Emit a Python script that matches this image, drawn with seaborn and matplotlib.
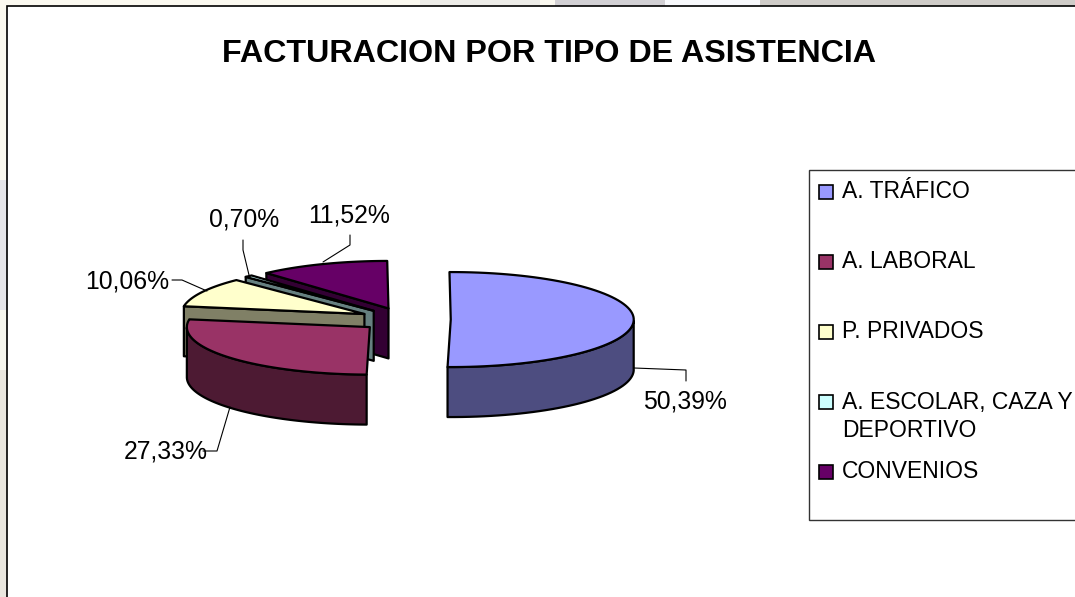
import numpy as np
import matplotlib
matplotlib.use("Agg")
import matplotlib.pyplot as plt
from matplotlib.patches import Polygon, Rectangle
import seaborn as sns

#%% Data
title = 'FACTURACION POR TIPO DE ASISTENCIA'
categories = ['A. TRÁFICO', 'A. LABORAL', 'P. PRIVADOS', 'A. ESCOLAR, CAZA Y\nDEPORTIVO', 'CONVENIOS']
values = [50.39, 27.33, 10.06, 0.70, 11.52]
top_colors = ['#9999FF', '#993366', '#FFFFCC', '#CCFFFF', '#660066']
side_colors = ['#4D4D80', '#4D1A33', '#808066', '#668080', '#330033']

#%% Layout, in image pixels
W, H = 1075, 597
cx, cy = 405, 319.5
rx, ry = 183, 47.5
depth = 50
explode = 0.25
first_angle = -0.4
line_w = 1.6

sns.set_style("white")
plt.rcParams['font.family'] = ['Liberation Sans', 'DejaVu Sans']

fig = plt.figure(figsize=(W / 100, H / 100), dpi=100, facecolor='#FBF9F0')
ax = fig.add_axes([0, 0, 1, 1])
ax.set_xlim(0, W)
ax.set_ylim(H, 0)
ax.axis('off')

# faint picture behind the chart, only the strips at the top and left show
strips = [
    (420, 0, 120, 6, '#EDECE8'),
    (555, 0, 110, 6, '#D2D0D4'),
    (665, 0, 95, 6, '#F8F9FC'),
    (760, 0, 315, 6, '#CFCCC8'),
    (0, 180, 7, 130, '#E6E6EA'),
    (0, 310, 7, 60, '#F6F6EE'),
    (0, 370, 7, 227, '#EAE7DF'),
]
for x, y, w, h, c in strips:
    ax.add_patch(Rectangle((x, y), w, h, fc=c, ec='none', zorder=-1))

# chart area
ax.add_patch(Rectangle((7, 6), W, H, fc='white', ec='black', lw=1.2, zorder=0))


def point(ox, oy, deg, dy=0):
    # angle is clockwise from the top of the pie
    t = np.radians(deg)
    return ox + rx * np.sin(t), oy - ry * np.cos(t) + dy


def draw_wedge(start, end, top, side):
    mid = (start + end) / 2
    ox, oy = point(cx, cy, mid)
    ox = cx + (ox - cx) * explode
    oy = cy + (oy - cy) * explode

    angles = np.linspace(start, end, 80)
    kw = dict(ec='black', lw=line_w, joinstyle='round')

    # radial side faces that look at the viewer, edge-on ones are skipped
    for edge, normal in ((start, start - 90), (end, end + 90)):
        if np.cos(np.radians(normal)) < -0.1:
            ex, ey = point(ox, oy, edge)
            ax.add_patch(Polygon([(ox, oy), (ex, ey), (ex, ey + depth), (ox, oy + depth)],
                                 fc=side, **kw))

    # rim, only the front half of the ellipse
    front = angles[(angles >= 90) & (angles <= 270)]
    if len(front) > 1:
        upper = [point(ox, oy, a) for a in front]
        lower = [point(ox, oy, a, depth) for a in front[::-1]]
        ax.add_patch(Polygon(upper + lower, fc=side, **kw))

    # top face
    ax.add_patch(Polygon([(ox, oy)] + [point(ox, oy, a) for a in angles], fc=top, **kw))


# back slices first, so the front ones cover them
stops = np.cumsum([0] + values) * 3.6 + first_angle
for i in [4, 3, 2, 1, 0]:
    draw_wedge(stops[i], stops[i + 1], top_colors[i], side_colors[i])

#%% Percent labels and leader lines
pct = [f'{v:.2f}%'.replace('.', ',') for v in values]
label_pos = [(685, 401), (166, 452), (127, 281), (244, 220), (349, 215)]
leaders = [
    [(634, 368), (686, 370), (686, 381)],
    [(203, 451), (217, 451), (230, 407)],
    [(172, 280), (182, 280), (207, 291)],
    [(243, 240), (243, 250), (249, 275)],
    [(350, 235), (350, 245), (323, 262)],
]
for txt, pos, lead in zip(pct, label_pos, leaders):
    ax.text(pos[0], pos[1], txt, fontsize=17.8, ha='center', va='center', color='black')
    ax.plot(*zip(*lead), color='black', lw=0.8, zorder=1.5)

#%% Title
ax.text(549, 54, title, fontsize=23.2, fontweight='bold', ha='center', va='center', color='black')

#%% Legend
ax.add_patch(Rectangle((809, 170), W, 350, fc='white', ec='#333333', lw=1))
marker_y = [192, 262, 332, 402, 472]
text_y = [180, 250, 320, 391, 460]
for name, color, my, ty in zip(categories, top_colors, marker_y, text_y):
    ax.add_patch(Rectangle((819, my - 7), 14, 14, fc=color, ec='black', lw=1.2))
    ax.text(842, ty, name, fontsize=16.5, ha='left', va='top', color='black', linespacing=1.3)

fig.savefig('out.png', dpi=100, facecolor=fig.get_facecolor())
